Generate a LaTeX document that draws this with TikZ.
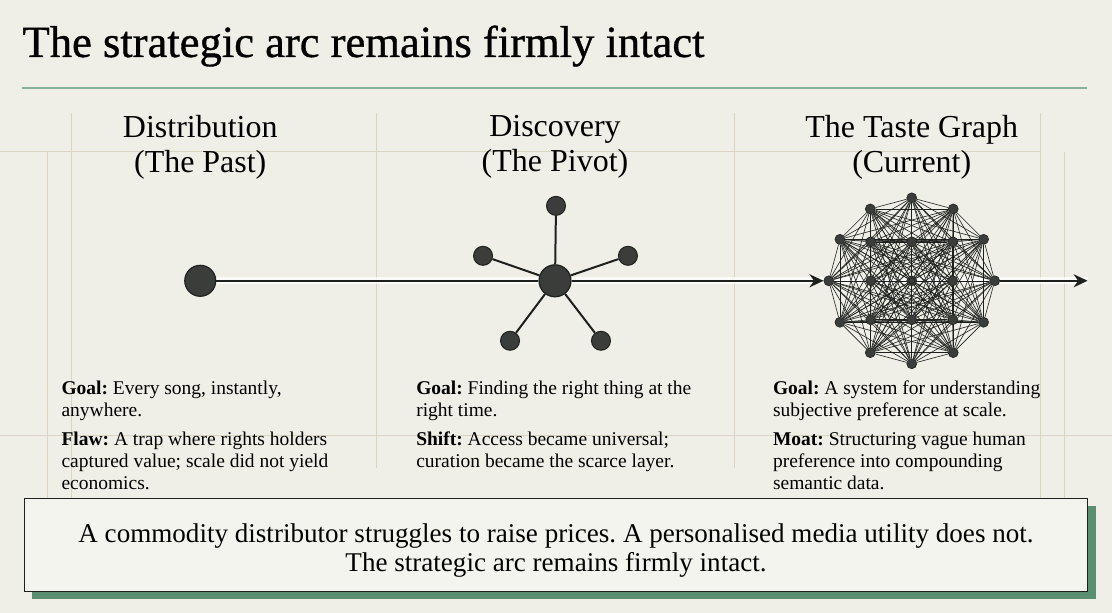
\documentclass[tikz,border=0pt]{standalone}
\usepackage{fontspec}
\setmainfont{Liberation Serif}
\newfontfamily\titlefont[FakeBold=0.8]{Liberation Serif}
\usepackage{xcolor}
\usepackage{tikz}
\usetikzlibrary{arrows.meta, positioning, backgrounds, shadows}
\frenchspacing

\definecolor{paper}{HTML}{EFEFE8}
\definecolor{gridtan}{HTML}{DAD5C2}
\definecolor{rulegreen}{HTML}{86B097}
\definecolor{shadowgreen}{HTML}{5B8F72}
\definecolor{ink}{HTML}{1E201E}
\definecolor{dotfill}{HTML}{3B3D3B}
\definecolor{boxfill}{HTML}{F4F4EF}

\begin{document}
\begin{tikzpicture}[
    x=1pt, y=-1pt,
    gridline/.style={draw=gridtan, line width=0.8pt},
    colhead/.style={align=center, anchor=north, inner sep=0pt, font=\fontsize{32}{35}\selectfont},
    coltext/.style={align=left, anchor=north west, inner sep=0pt, font=\fontsize{19.5}{22}\selectfont},
    bigdot/.style={circle, draw=ink, fill=dotfill, line width=1.2pt, minimum size=31pt, inner sep=0pt},
    hub/.style={circle, draw=ink, fill=dotfill, line width=1.2pt, minimum size=32pt, inner sep=0pt},
    leaf/.style={circle, draw=ink, fill=dotfill, line width=1pt, minimum size=19pt, inner sep=0pt},
    tnode/.style={circle, draw=ink, fill=dotfill, line width=0.6pt, minimum size=10pt, inner sep=0pt},
    spoke/.style={draw=ink, line width=2pt},
    mesh/.style={draw=ink, line width=0.6pt},
    axis/.style={draw=ink, line width=2.5pt},
    halo/.style={draw=white, line width=7pt, opacity=0.7},
    callout/.style={rectangle, draw=ink, line width=1.5pt, fill=boxfill, minimum width=1064pt, minimum height=93pt}
]

% Title and rule
\node[anchor=base west, inner sep=0pt, font=\titlefont\fontsize{44.6}{50}\selectfont] (title) at (22,57) {The strategic arc remains firmly intact};
\draw[draw=rulegreen, line width=1.5pt] (22,88) -- (1087,88);

% Column headings
\node[colhead] (dist) at (200,115) {Distribution\\(The Past)};
\node[colhead] (disc) at (555,115) {Discovery\\(The Pivot)};
\node[colhead] (taste) at (912,115) {The Taste Graph\\(Current)};

% Distribution - single point
\node[bigdot] (past) at (200,281) {};

% Discovery - hub and spokes
\node[hub] (pivot) at (555,281) {};
\node[leaf] (ltop) at (556,206) {};
\node[leaf] (lleft) at (483,256) {};
\node[leaf] (lright) at (628,256) {};
\node[leaf] (lbl) at (510,341) {};
\node[leaf] (lbr) at (601,341) {};
\draw[spoke] (pivot) -- (ltop);
\draw[spoke] (pivot) -- (lleft);
\draw[spoke] (pivot) -- (lright);
\draw[spoke] (pivot) -- (lbl);
\draw[spoke] (pivot) -- (lbr);

% Taste graph - ring of 12 plus inner 3x3 grid
\coordinate (gc) at (912,281);
\foreach \i in {0,...,11}
    \node[tnode] (r\i) at ([shift={(\i*30:83)}]gc) {};
\foreach \ix/\cx in {0/-41,1/0,2/41}
    \foreach \iy/\cy in {0/-39,1/0,2/39}
        \node[tnode] (g\ix\iy) at ([shift={(\cx,\cy)}]gc) {};
\node[tnode, minimum size=6pt] at (gc) {};

% Timeline axis
\coordinate (axisend) at (1088,281);
\draw[axis] (past) -- (pivot);
\draw[axis, -{Stealth[length=14pt, width=13pt]}] (pivot) -- (r6);
\draw[axis, -{Stealth[length=14pt, width=13pt]}] (r0) -- (axisend);

% Column notes
\node[coltext] (note1) at (61,381) {\textbf{Goal:} Every song, instantly,\\anywhere.\\[7pt]\textbf{Flaw:} A trap where rights holders\\captured value; scale did not yield\\economics.};
\node[coltext] (note2) at (416,381) {\textbf{Goal:} Finding the right thing at the\\right time.\\[7pt]\textbf{Shift:} Access became universal;\\curation became the scarce layer.};
\node[coltext] (note3) at (773,381) {\textbf{Goal:} A system for understanding\\subjective preference at scale.\\[7pt]\textbf{Moat:} Structuring vague human\\preference into compounding\\semantic data.};

% Verdict box
\node[callout, drop shadow={shadow xshift=8pt, shadow yshift=-7pt, fill=shadowgreen, opacity=1}] (verdict) at (556,545.5) {};
\node[align=center, anchor=base, inner sep=0pt, font=\fontsize{27.1}{29}\selectfont] (verdicttext) at (556,572) {A commodity distributor struggles to raise prices. A personalised media utility does not.\\The strategic arc remains firmly intact.};

% Paper, grid and mesh behind everything
\begin{scope}[on background layer]
\fill[paper] (0,0) rectangle (1112,613);
\draw[gridline] (0,152) -- (1041,152);
\draw[gridline] (0,436) -- (1112,436);
\draw[gridline] (47,152) -- (47,499);
\draw[gridline] (71,113) -- (71,499);
\draw[gridline] (376,113) -- (376,468);
\draw[gridline] (735,113) -- (735,468);
\draw[gridline] (1041,113) -- (1041,499);
\draw[gridline] (1065,152) -- (1065,499);
\draw[halo] (past) -- (axisend);
\foreach \a [count=\i] in {r0,r1,r2,r3,r4,r5,r6,r7,r8,r9,r10,r11,g00,g01,g02,g10,g11,g12,g20,g21,g22}
    \foreach \b [count=\j] in {r0,r1,r2,r3,r4,r5,r6,r7,r8,r9,r10,r11,g00,g01,g02,g10,g11,g12,g20,g21,g22}
        {\ifnum\j>\i \draw[mesh] (\a) -- (\b); \fi}
\end{scope}

\end{tikzpicture}
\end{document}
